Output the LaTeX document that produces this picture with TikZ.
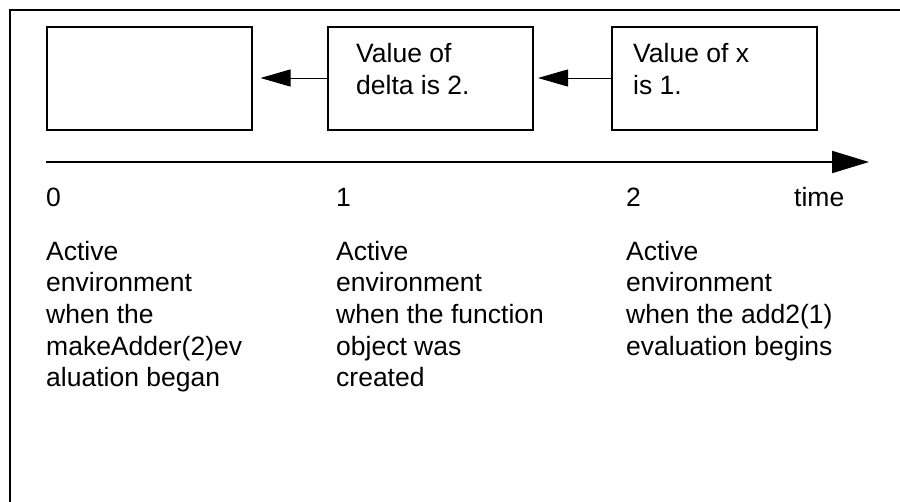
\documentclass[tikz,border=0pt]{standalone}
\usepackage{fontspec}
\setmainfont{Liberation Sans}
\usetikzlibrary{arrows.meta}
\begin{document}
\begin{tikzpicture}[x=1pt,y=-1pt,
  envbox/.style={draw,line width=2pt,minimum width=205pt,minimum height=103pt,inner sep=0pt},
  lbl/.style={anchor=base west,inner sep=0pt,align=left,font=\fontsize{26.5}{31.7}\selectfont},
  link/.style={line width=1pt,-{Triangle[length=30pt,width=17pt]}},
  axis/.style={line width=2pt,-{Triangle[length=37pt,width=22pt]}}]
  \useasboundingbox (0,0) rectangle (900,501);
  % open frame: left and top sides only
  \draw[line width=2pt] (10,505) -- (10,10) -- (905,10);

  % environment boxes
  \node[envbox] (b1) at (149,78) {};
  \node[envbox] (b2) at (430.5,78) {};
  \node[envbox] (b3) at (714.5,78) {};
  % multi-line labels are placed by the baseline of their last line
  \node[lbl] (v2) at (356,94.5) {Value of\\delta is 2.};
  \node[lbl] (v3) at (633,94.5) {Value of x\\is 1.};

  % parent links
  \draw[link,shorten >=8pt] (b2.west) -- (b1.east);
  \draw[link,shorten >=4pt] (b3.west) -- (b2.east);

  % time axis
  \coordinate (t0) at (46,162);
  \coordinate (t1) at (869,162);
  \draw[axis] (t0) -- (t1);

  \node[lbl] (n0) at (46,206) {0};
  \node[lbl] (n1) at (336,206) {1};
  \node[lbl] (n2) at (626,206) {2};
  \node[lbl] (tm) at (794,206) {time};

  \node[lbl] (d0) at (46,386.8) {Active\\environment\\when the\\makeAdder(2)ev\\aluation began};
  \node[lbl] (d1) at (336,386.8) {Active\\environment\\when the function\\object was\\created};
  \node[lbl] (d2) at (626,355.1) {Active\\environment\\when the add2(1)\\evaluation begins};
\end{tikzpicture}
\end{document}
